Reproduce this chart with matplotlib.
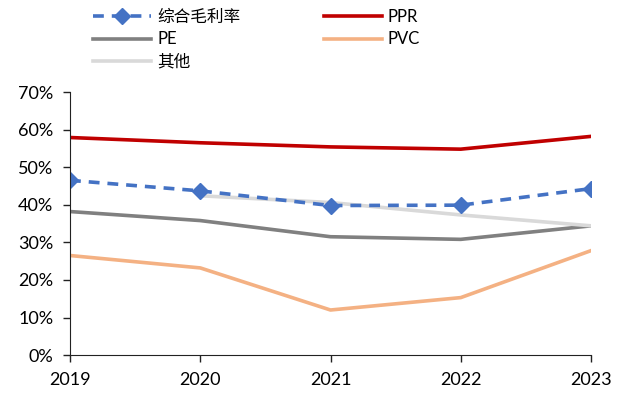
import numpy as np
import matplotlib
matplotlib.use("Agg")
import matplotlib.pyplot as plt
from matplotlib.ticker import FuncFormatter

plt.rcParams['font.family'] = ['Lato', 'Noto Sans CJK SC', 'DejaVu Sans']

# years and gross margin by product (%)
years = [2019, 2020, 2021, 2022, 2023]
total = [46.5, 43.7, 39.8, 39.9, 44.3]
ppr = [57.9, 56.5, 55.4, 54.8, 58.2]
pe = [38.2, 35.8, 31.5, 30.8, 34.4]
pvc = [26.5, 23.2, 12.0, 15.3, 27.8]
other_years = [2020, 2021, 2022, 2023]
other = [42.4, 40.6, 37.3, 34.4]

fig = plt.figure(figsize=(6.25, 3.95), dpi=100)
ax = fig.add_axes([0.112, 0.101, 0.8336, 0.666])

lw = 2.6
l_pe, = ax.plot(years, pe, color="#808080", lw=lw, label="PE")
l_pvc, = ax.plot(years, pvc, color="#F4B183", lw=lw, label="PVC")
l_ppr, = ax.plot(years, ppr, color="#C00000", lw=lw, label="PPR")
l_oth, = ax.plot(other_years, other, color="#D9D9D9", lw=lw, label="其他")
l_tot, = ax.plot(years, total, color="#4472C4", lw=lw, ls=(0, (3, 2.2)),
                 marker="D", ms=8, label="综合毛利率")

ax.set_xlim(2019, 2023)
ax.set_ylim(0, 70)
ax.set_xticks(years)
ax.set_yticks(np.arange(0, 71, 10))
ax.yaxis.set_major_formatter(FuncFormatter(lambda v, p: "%d%%" % v))
ax.tick_params(labelsize=13, length=5, width=1, color="#222222", pad=7)
for s in ["top", "right"]:
  ax.spines[s].set_visible(False)
for s in ["left", "bottom"]:
  ax.spines[s].set_color("#222222")

fig.legend(handles=[l_tot, l_pe, l_oth, l_ppr, l_pvc], ncol=2,
           loc="upper left", bbox_to_anchor=(0.125, 1.015), frameon=False,
           fontsize=12, handlelength=3.5, columnspacing=5.0,
           labelspacing=0.38, handletextpad=0.35)

fig.savefig("out.png", dpi=100)
